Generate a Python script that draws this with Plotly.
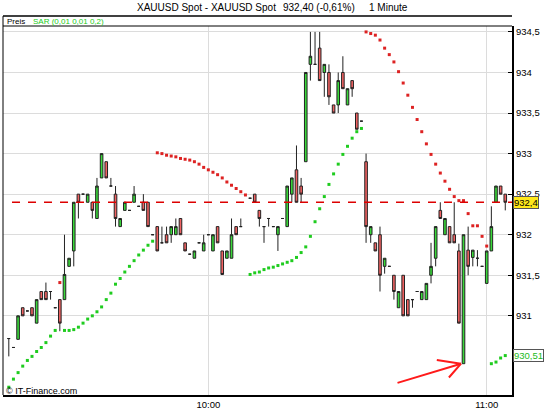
import plotly.graph_objects as go

# ---------------- data (minutes after 09:00) ----------------
times = [17, 18, 19, 20, 21, 22, 23, 24, 25, 26, 27, 28, 29, 30, 31, 32, 33, 34, 35, 36,
         37, 38, 39, 40, 41, 42, 43, 44, 45, 46, 47, 48, 49, 50, 51, 52, 53, 54, 55, 56,
         57, 58, 59, 60, 61, 62, 63, 64, 65, 66, 67, 69, 70, 71, 72, 73, 74, 75, 76, 77,
         78, 79, 80, 81, 82, 83, 84, 85, 86, 87, 88, 89, 90, 91, 92, 93, 94, 95, 96, 97,
         98, 99, 100, 101, 102, 103, 104, 105, 106, 107, 108, 109, 110, 111, 112, 113,
         114, 115, 116, 117, 118, 119, 120, 121, 122, 123, 124]

opens = [930.72, 930.61, 930.71, 931.10, 931.06, 931.10, 930.91, 931.30, 931.30, 931.30,
         931.10, 931.20, 931.20, 931.61, 931.80, 932.50, 932.50, 932.40, 932.40, 932.20,
         932.70, 932.90, 932.60, 932.50, 932.10, 932.30, 932.30, 932.40, 932.35, 932.40,
         932.40, 932.00, 932.10, 931.90, 932.00, 932.00, 932.00, 932.20, 931.90, 931.76,
         931.71, 931.90, 931.80, 932.00, 931.80, 932.10, 931.80, 931.71, 931.71, 932.10,
         932.10, 932.45, 932.50, 932.30, 932.10, 932.20, 932.10, 932.00, 932.20, 932.10,
         932.50, 932.80, 932.60, 932.90, 934.10, 934.10, 934.30, 934.00, 934.00, 933.60,
         933.60, 934.00, 933.60, 933.90, 933.50, 933.40, 932.90, 932.00, 931.90, 932.00,
         931.61, 931.61, 931.50, 931.10, 931.50, 931.20, 931.20, 931.30, 931.20, 931.20,
         931.50, 931.71, 932.30, 932.00, 932.10, 932.00, 931.80, 930.41, 931.81, 931.72,
         931.71, 931.61, 931.40, 931.80, 932.40, 932.60, 932.50]

highs = [930.72, 930.61, 931.00, 931.10, 931.06, 931.10, 931.20, 931.30, 931.41, 931.30,
         931.10, 931.20, 932.00, 931.71, 932.40, 932.50, 932.50, 932.50, 932.40, 932.70,
         933.00, 932.90, 932.70, 932.60, 932.20, 932.40, 932.30, 932.60, 932.35, 932.50,
         932.40, 932.00, 932.10, 932.10, 932.10, 932.10, 932.20, 932.20, 931.90, 931.76,
         931.80, 931.90, 932.00, 932.00, 932.00, 932.10, 931.80, 931.80, 932.20, 932.10,
         932.20, 932.45, 932.50, 932.30, 932.10, 932.20, 932.10, 932.10, 932.20, 932.60,
         932.70, 933.10, 932.70, 934.00, 934.50, 934.50, 934.50, 934.10, 934.10, 933.60,
         934.00, 934.20, 933.80, 933.90, 933.50, 933.40, 933.00, 932.10, 931.90, 932.10,
         931.71, 931.61, 931.50, 931.30, 931.50, 931.20, 931.20, 931.30, 931.30, 931.40,
         931.90, 932.10, 932.40, 932.20, 932.10, 932.40, 931.89, 932.00, 932.10, 931.81,
         931.81, 931.61, 931.80, 932.35, 932.60, 932.60, 932.50]

lows = [930.50, 930.61, 930.71, 931.00, 931.06, 931.00, 930.91, 931.20, 931.20, 931.20,
        931.10, 930.81, 931.20, 931.61, 931.61, 932.20, 932.50, 932.40, 932.20, 932.20,
        932.70, 932.70, 932.60, 932.10, 932.10, 932.30, 932.30, 932.40, 932.35, 932.30,
        932.10, 932.00, 931.80, 931.90, 931.90, 931.90, 932.00, 932.00, 931.80, 931.76,
        931.71, 931.90, 931.80, 932.00, 931.80, 931.90, 931.51, 931.71, 931.71, 932.00,
        932.10, 932.45, 932.40, 932.10, 931.90, 932.10, 932.10, 931.80, 932.20, 932.10,
        932.40, 932.40, 932.40, 932.90, 933.90, 934.10, 933.90, 933.70, 933.60, 933.50,
        933.50, 933.80, 933.60, 933.70, 933.30, 933.40, 931.90, 931.90, 931.80, 931.30,
        931.52, 931.61, 931.20, 931.10, 931.00, 931.00, 931.10, 931.30, 931.20, 931.20,
        931.40, 931.61, 932.20, 932.00, 931.90, 931.90, 930.91, 930.41, 931.50, 931.61,
        931.61, 931.61, 931.40, 931.80, 932.40, 932.50, 932.30]

closes = [930.72, 930.61, 931.00, 931.00, 931.06, 931.00, 931.20, 931.20, 931.20, 931.30,
          931.10, 930.91, 931.51, 931.71, 932.40, 932.40, 932.50, 932.50, 932.30, 932.60,
          933.00, 932.70, 932.60, 932.20, 932.20, 932.40, 932.30, 932.50, 932.35, 932.30,
          932.10, 932.00, 931.80, 931.90, 931.90, 932.10, 932.10, 932.00, 931.80, 931.76,
          931.80, 931.90, 931.90, 932.00, 932.00, 931.90, 931.51, 931.80, 932.00, 932.00,
          932.10, 932.45, 932.40, 932.20, 932.10, 932.20, 932.10, 932.10, 932.20, 932.60,
          932.70, 932.40, 932.50, 934.00, 934.20, 934.10, 933.90, 934.10, 933.70, 933.50,
          933.90, 933.80, 933.80, 933.80, 933.30, 933.40, 932.10, 932.10, 931.80, 931.50,
          931.71, 931.61, 931.30, 931.30, 931.00, 931.00, 931.20, 931.30, 931.30, 931.40,
          931.61, 932.10, 932.20, 932.20, 931.90, 931.90, 930.91, 932.00, 931.61, 931.81,
          931.71, 931.61, 931.80, 932.10, 932.60, 932.50, 932.40]

# Parabolic SAR (0,01 0,01 0,2) - long (green) and short (red) phases
sar_green_t = [17, 18, 19, 20, 21, 22, 23, 24, 25, 26, 27,
               29, 30, 31, 32, 33, 34, 35, 36, 37, 38, 39, 40, 41, 42, 43, 44, 45, 46, 47, 48,
               69, 70, 71, 72, 73, 74, 75, 76, 77, 78, 79, 80, 81, 82, 83, 84, 85, 86, 87,
               88, 89, 90, 91, 92, 93,
               121, 122, 123, 124]
sar_green_v = [930.12, 930.22, 930.30, 930.38, 930.45, 930.50, 930.56, 930.61, 930.67, 930.75, 930.82,
               930.82, 930.82, 930.83, 930.86, 930.91, 930.96, 931.00, 931.05, 931.11, 931.20,
               931.28, 931.39, 931.46, 931.54, 931.61, 931.68, 931.75, 931.81, 931.87, 931.92,
               931.51, 931.53, 931.54, 931.57, 931.59, 931.60, 931.62, 931.64, 931.66, 931.68,
               931.72, 931.78, 931.85, 931.98, 932.16, 932.32, 932.47, 932.62, 932.75,
               932.87, 932.99, 933.09, 933.19, 933.27, 933.31,
               930.41, 930.43, 930.48, 930.51]

sar_red_t = [28,
             49, 50, 51, 52, 53, 54, 55, 56, 57, 58, 59, 60, 61, 62, 63, 64, 65, 66, 67, 68,
             94, 95, 96, 97, 98, 99, 100, 101, 102, 103, 104, 105, 106, 107, 108, 109, 110,
             111, 112, 113, 114, 115, 116, 117, 118, 119, 120]
sar_red_v = [931.41,
             933.01, 933.00, 932.98, 932.97, 932.96, 932.94, 932.93, 932.92, 932.90, 932.87,
             932.83, 932.80, 932.77, 932.74, 932.70, 932.65, 932.61, 932.57, 932.53, 932.49,
             934.50, 934.48, 934.46, 934.40, 934.30, 934.22, 934.13, 934.01, 933.87, 933.72,
             933.57, 933.42, 933.27, 933.12, 932.99, 932.87, 932.76, 932.66, 932.56, 932.47,
             932.42, 932.42, 932.26, 932.11, 932.11, 931.98, 931.86]

y_ticks = [931, 931.5, 932, 932.5, 933, 933.5, 934, 934.5]
y_labels = ["931", "931,5", "932", "932,5", "933", "933,5", "934", "934,5"]
x_ticks = [60, 120]
x_labels = ["10:00", "11:00"]

# ---------------- figure ----------------
FONT = "Liberation Sans, Arial, sans-serif"
GREEN_C = "#3ad83a"
RED_C = "#f06262"

fig = go.Figure()
fig.add_trace(go.Candlestick(
    x=times, open=opens, high=highs, low=lows, close=closes,
    increasing=dict(fillcolor=GREEN_C, line=dict(color="#222222", width=1)),
    decreasing=dict(fillcolor=RED_C, line=dict(color="#222222", width=1)),
    whiskerwidth=0, hoverinfo="skip", name="Preis"))

fig.add_trace(go.Scatter(x=sar_green_t, y=sar_green_v, mode="markers",
                         marker=dict(symbol="square", size=3, color="#1fcc1f", line=dict(width=0)),
                         hoverinfo="skip"))
fig.add_trace(go.Scatter(x=sar_red_t, y=sar_red_v, mode="markers",
                         marker=dict(symbol="square", size=3, color="#dd2222", line=dict(width=0)),
                         hoverinfo="skip"))

last_close = closes[-1]
last_sar = sar_green_v[-1]
low_idx = lows.index(min(lows))

shapes = [
    # current price line
    dict(type="line", xref="paper", yref="y", x0=0.0177, x1=1, y0=last_close, y1=last_close,
         line=dict(color="#dd0000", width=1.3, dash="8px,8px"), layer="above"),
    # frame: left, top, legend separator
    dict(type="line", xref="paper", yref="paper", x0=0, x1=0, y0=0, y1=1.0268,
         line=dict(color="#000000", width=1)),
    dict(type="line", xref="paper", yref="paper", x0=0, x1=1, y0=1.0268, y1=1.0268,
         line=dict(color="#000000", width=1.5)),
    dict(type="line", xref="paper", yref="paper", x0=0, x1=1, y0=1.0, y1=1.0,
         line=dict(color="#000000", width=1)),
]

ann = []
# title pieces
ann.append(dict(text="XAUUSD Spot - XAUUSD Spot", xref="paper", yref="paper", x=0.3998, y=1.051,
                showarrow=False, xanchor="center", yanchor="middle", font=dict(size=10, color="#000")))
ann.append(dict(text="932,40 (-0,61%)", xref="paper", yref="paper", x=0.6218, y=1.051,
                showarrow=False, xanchor="center", yanchor="middle", font=dict(size=10, color="#000")))
ann.append(dict(text="1 Minute", xref="paper", yref="paper", x=0.7564, y=1.051,
                showarrow=False, xanchor="center", yanchor="middle", font=dict(size=10, color="#000")))
# legend strip
ann.append(dict(text="Preis", xref="paper", yref="paper", x=0.004, y=1.0134, showarrow=False,
                xanchor="left", yanchor="middle", font=dict(size=8, color="#000")))
ann.append(dict(text="SAR (0,01 0,01 0,2)", xref="paper", yref="paper", x=0.055, y=1.0134,
                showarrow=False, xanchor="left", yanchor="middle", font=dict(size=8, color="#22cc22")))
# watermark
ann.append(dict(text="© IT-Finance.com", xref="paper", yref="paper", x=0.002, y=0.011,
                showarrow=False, xanchor="left", yanchor="middle", font=dict(size=9, color="#000")))
# right value boxes
ann.append(dict(text=f"{last_close:g}".replace(".", ","), xref="paper", yref="y", x=1, y=last_close,
                xanchor="left", yanchor="middle", xshift=1, showarrow=False,
                bgcolor="#ffe81a", bordercolor="#555555", borderwidth=1, borderpad=0,
                font=dict(size=9.5, color="#000")))
ann.append(dict(text=f"{last_sar:.2f}".replace(".", ","), xref="paper", yref="y", x=1, y=last_sar,
                xanchor="left", yanchor="middle", xshift=1, showarrow=False,
                bgcolor="#ffffff", bordercolor="#555555", borderwidth=1, borderpad=0,
                font=dict(size=9.5, color="#22bb22")))
# red arrow pointing at the spike low
for axp, ayp in [(-65, 19.6), (-25.7, -3.9), (-13.4, 15.3)]:
    ann.append(dict(text="", x=times[low_idx], y=lows[low_idx], xref="x", yref="y",
                    xshift=-2.5, ax=axp, ay=ayp, showarrow=True, arrowhead=0,
                    arrowwidth=2, arrowcolor="#ff1a1a", standoff=0))

fig.update_layout(
    width=550, height=413,
    margin=dict(l=3, r=38, t=26, b=14),
    paper_bgcolor="white", plot_bgcolor="white",
    showlegend=False,
    font=dict(family=FONT, size=9.5, color="#000"),
    boxgap=0.2,
    shapes=shapes, annotations=ann,
    xaxis=dict(range=[15.75, 125.45], tickvals=x_ticks, ticktext=x_labels,
               showgrid=True, gridcolor="#dcdcdc", gridwidth=1, zeroline=False,
               showline=True, linecolor="#000", linewidth=2, ticks="",
               rangeslider=dict(visible=False), tickfont=dict(size=9.5)),
    yaxis=dict(side="right", range=[930.024, 934.573], tickvals=y_ticks, ticktext=y_labels,
               showgrid=True, gridcolor="#dcdcdc", gridwidth=1, zeroline=False,
               showline=True, linecolor="#000", linewidth=2,
               ticks="inside", ticklen=4, tickcolor="#000", tickfont=dict(size=9.5)),
)

fig.write_html("out.html", config={"displayModeBar": False},
               post_script="document.body.style.margin='0';")
